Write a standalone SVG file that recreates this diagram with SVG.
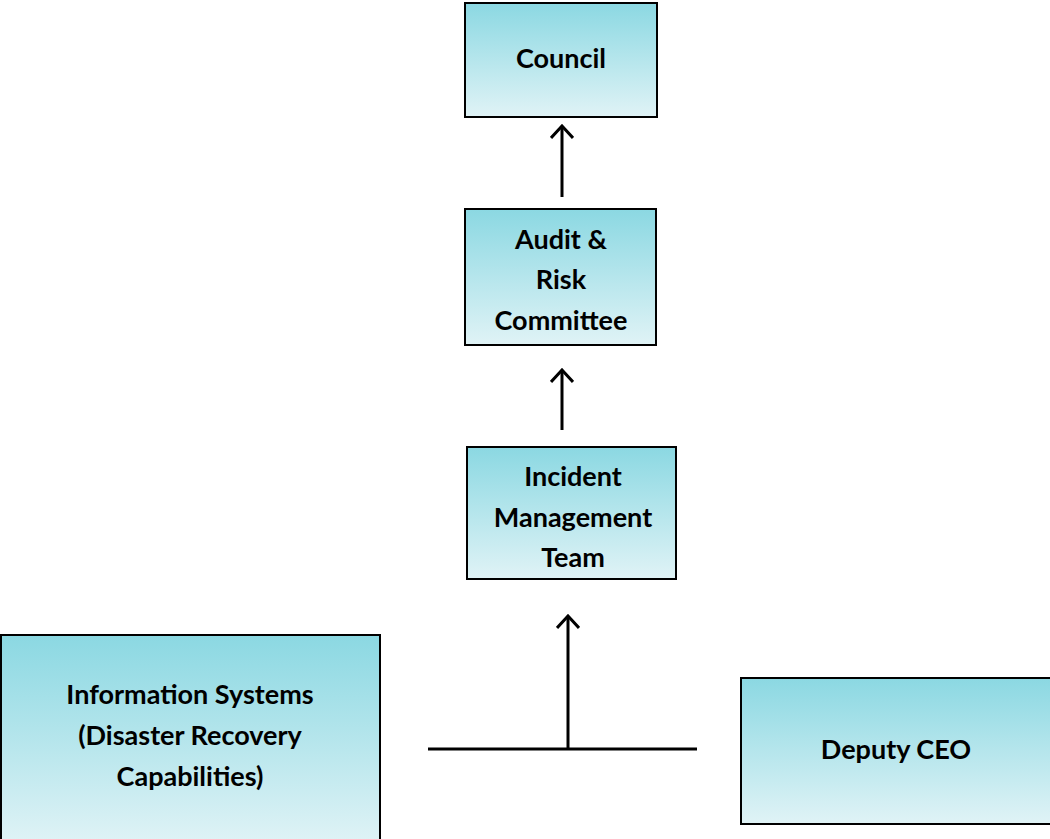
<svg xmlns="http://www.w3.org/2000/svg" width="1050" height="839" viewBox="0 0 1050 839">
<defs>
<linearGradient id="g" x1="0" y1="0" x2="0" y2="1">
<stop offset="0" stop-color="#8bd8e2"/>
<stop offset="1" stop-color="#e0f3f6"/>
</linearGradient>
<marker id="arr" viewBox="0 0 16 24" refX="14" refY="12" markerWidth="16" markerHeight="24" markerUnits="userSpaceOnUse" orient="auto">
<path d="M2,1 L14,12 L2,23" fill="none" stroke="#000" stroke-width="3"/>
</marker>
<style>
.box{fill:url(#g);stroke:#000;stroke-width:2}
.t{font-family:Lato,"Liberation Sans",sans-serif;font-weight:bold;font-size:27px;fill:#000;text-anchor:middle}
.c{stroke:#000;stroke-width:3;fill:none}
</style>
</defs>
<rect width="1050" height="839" fill="#fff"/>
<g id="council"><rect class="box" x="465" y="3" width="192" height="114"/><text class="t" x="561" y="68">Council</text></g>
<g id="audit"><rect class="box" x="465" y="209" width="191" height="136"/><text class="t" x="561" y="249">Audit &amp;</text><text class="t" x="561" y="289">Risk</text><text class="t" x="561" y="330">Committee</text></g>
<g id="incident"><rect class="box" x="467" y="447" width="209" height="132"/><text class="t" x="573" y="486">Incident</text><text class="t" x="573" y="527">Management</text><text class="t" x="573" y="567">Team</text></g>
<g id="infosys"><rect class="box" x="1" y="635" width="379" height="210"/><text class="t" x="190" y="704">Information Systems</text><text class="t" x="190" y="745">(Disaster Recovery</text><text class="t" x="190" y="786">Capabilities)</text></g>
<g id="deputy"><rect class="box" x="741" y="678" width="310" height="146"/><text class="t" x="896" y="759">Deputy CEO</text></g>
<g id="connectors">
<line class="c" x1="562" y1="197" x2="562" y2="126" marker-end="url(#arr)"/>
<line class="c" x1="562" y1="430" x2="562" y2="370" marker-end="url(#arr)"/>
<line class="c" x1="568" y1="748" x2="568" y2="616" marker-end="url(#arr)"/>
<line class="c" x1="428" y1="749" x2="697" y2="749"/>
</g>
</svg>
